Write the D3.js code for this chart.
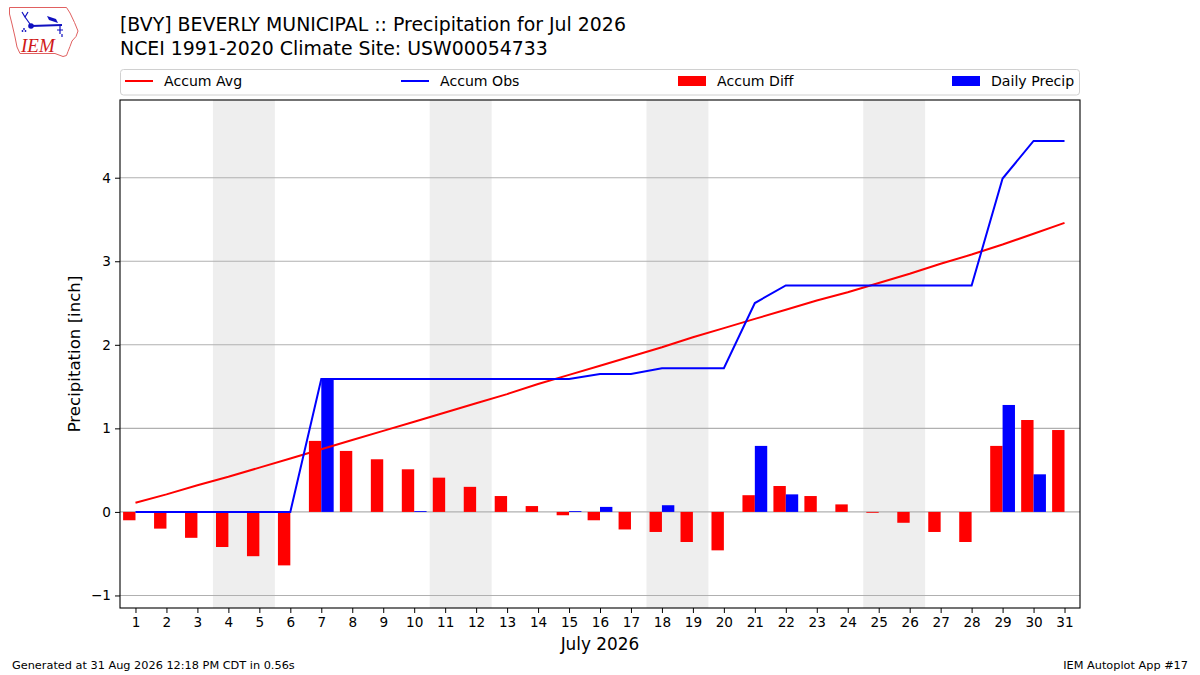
<!DOCTYPE html>
<html>
<head>
<meta charset="utf-8">
<script src="https://cdn.jsdelivr.net/npm/d3@7"></script>
<style>
	body { margin: 0; background: #fff; }
	svg { display: block; font-family: "DejaVu Sans", sans-serif; }
</style>
</head>
<body>
<div id="chart"></div>
<script>

// July 2026 days
var days = d3.range(1, 32)

var accumAvg = [0.11, 0.21, 0.32, 0.42, 0.53, 0.64, 0.75, 0.86, 0.97, 1.08,
	1.19, 1.30, 1.41, 1.53, 1.64, 1.75, 1.86, 1.97, 2.09, 2.20,
	2.31, 2.42, 2.53, 2.63, 2.74, 2.85, 2.97, 3.08, 3.20, 3.33, 3.46]

var accumObs = [0, 0, 0, 0, 0, 0, 1.59, 1.59, 1.59, 1.59,
	1.59, 1.59, 1.59, 1.59, 1.59, 1.65, 1.65, 1.72, 1.72, 1.72,
	2.50, 2.71, 2.71, 2.71, 2.71, 2.71, 2.71, 2.71, 3.99, 4.44, 4.44]

var accumDiff = [-0.10, -0.20, -0.31, -0.42, -0.53, -0.64, 0.85, 0.73, 0.63, 0.51,
	0.41, 0.30, 0.19, 0.07, -0.04, -0.10, -0.21, -0.24, -0.36, -0.46,
	0.20, 0.31, 0.19, 0.09, -0.01, -0.13, -0.24, -0.36, 0.79, 1.10, 0.98]

var dailyPrecip = [0, 0, 0, 0, 0, 0, 1.59, 0, 0, 0.01,
	0, 0, 0, 0, 0.01, 0.06, 0, 0.08, 0, 0,
	0.79, 0.21, 0, 0, 0, 0, 0, 0, 1.28, 0.45, 0]

// weekend spans (Sat-Sun)
var weekends = [[4, 5], [11, 12], [18, 19], [25, 26]]

var yTicks = [-1, 0, 1, 2, 3, 4]

var legendItems = [
	{ label: "Accum Avg", color: "red", type: "line", x: 125 },
	{ label: "Accum Obs", color: "blue", type: "line", x: 401 },
	{ label: "Accum Diff", color: "red", type: "patch", x: 678 },
	{ label: "Daily Precip", color: "blue", type: "patch", x: 952 }
]

var width = 1200
var height = 675
var margin = {top: 100, right: 120, bottom: 67, left: 120}

var svg = d3.select("#chart").append("svg")
	.attr("width", width)
	.attr("height", height)

var x = d3.scaleLinear().domain([0.5, 31.5]).range([margin.left, width - margin.right])
var y = d3.scaleLinear().domain([-1.15, 4.93]).range([height - margin.bottom, margin.top])

var plotW = width - margin.left - margin.right
var plotH = height - margin.top - margin.bottom

svg.append("rect").attr("width", width).attr("height", height).attr("fill", "#fff")

// weekend shading
svg.selectAll(".weekend")
	.data(weekends)
	.enter().append("rect")
	.attr("class", "weekend")
	.attr("x", function(d) { return x(d[0] - 0.5) })
	.attr("y", margin.top)
	.attr("width", function(d) { return x(d[1] + 0.5) - x(d[0] - 0.5) })
	.attr("height", plotH)
	.attr("fill", "#eeeeee")

// grid
svg.append("g")
	.selectAll("line")
	.data(yTicks)
	.enter().append("line")
	.attr("x1", margin.left).attr("x2", width - margin.right)
	.attr("y1", function(d) { return y(d) }).attr("y2", function(d) { return y(d) })
	.attr("stroke", "#b0b0b0")
	.attr("stroke-width", 1.1)

// bars
var barW = 0.4
svg.append("g").selectAll("rect")
	.data(days)
	.enter().append("rect")
	.attr("x", function(d) { return x(d - barW) })
	.attr("width", x(barW) - x(0))
	.attr("y", function(d, i) { return y(Math.max(accumDiff[i], 0)) })
	.attr("height", function(d, i) { return Math.abs(y(accumDiff[i]) - y(0)) })
	.attr("fill", "red")

svg.append("g").selectAll("rect")
	.data(days)
	.enter().append("rect")
	.attr("x", function(d) { return x(d) })
	.attr("width", x(barW) - x(0))
	.attr("y", function(d, i) { return y(Math.max(dailyPrecip[i], 0)) })
	.attr("height", function(d, i) { return Math.abs(y(dailyPrecip[i]) - y(0)) })
	.attr("fill", "blue")

// lines
var line = d3.line()
	.x(function(d) { return x(d[0]) })
	.y(function(d) { return y(d[1]) })

svg.append("path")
	.datum(days.map(function(d, i) { return [d, accumAvg[i]] }))
	.attr("d", line)
	.attr("fill", "none")
	.attr("stroke", "red")
	.attr("stroke-width", 2)

svg.append("path")
	.datum(days.map(function(d, i) { return [d, accumObs[i]] }))
	.attr("d", line)
	.attr("fill", "none")
	.attr("stroke", "blue")
	.attr("stroke-width", 2)

// axes
var xAxis = d3.axisBottom(x).tickValues(days).tickFormat(d3.format("d")).tickSizeOuter(0).tickSize(5).tickPadding(4)
var yAxis = d3.axisLeft(y).tickValues(yTicks).tickFormat(function(d) { return d < 0 ? "\u2212" + Math.abs(d) : d }).tickSizeOuter(0).tickSize(5).tickPadding(4)

svg.append("g")
	.attr("class", "x")
	.attr("transform", "translate(0," + (height - margin.bottom) + ")")
	.call(xAxis)

svg.append("g")
	.attr("class", "y")
	.attr("transform", "translate(" + margin.left + ",0)")
	.call(yAxis)

svg.selectAll(".x .domain, .y .domain").remove()
svg.selectAll(".x text, .y text")
	.attr("font-family", "DejaVu Sans")
	.attr("font-size", 13.6)
	.attr("fill", "#000")
svg.selectAll(".x line, .y line").attr("stroke", "#000").attr("stroke-width", 1)

// frame
svg.append("rect")
	.attr("x", margin.left).attr("y", margin.top)
	.attr("width", plotW).attr("height", plotH)
	.attr("fill", "none")
	.attr("stroke", "#000")
	.attr("stroke-width", 1.1)

// axis labels
svg.append("text")
	.attr("x", x(16)).attr("y", 650)
	.attr("text-anchor", "middle")
	.attr("font-size", 16.9)
	.text("July 2026")

svg.append("text")
	.attr("transform", "translate(80," + (margin.top + plotH / 2) + ") rotate(-90)")
	.attr("text-anchor", "middle")
	.attr("font-size", 16.6)
	.text("Precipitation [inch]")

// titles
svg.append("text").attr("x", 120).attr("y", 31).attr("font-size", 18.9)
	.text("[BVY] BEVERLY MUNICIPAL :: Precipitation for Jul 2026")
svg.append("text").attr("x", 120).attr("y", 55).attr("font-size", 18.9)
	.text("NCEI 1991-2020 Climate Site: USW00054733")

// legend
var legend = svg.append("g")
legend.append("rect")
	.attr("x", 120.5).attr("y", 69.5)
	.attr("width", 959).attr("height", 25.5)
	.attr("rx", 3)
	.attr("fill", "#fff")
	.attr("stroke", "#d0d0d0")

legendItems.forEach(function(d) {
	if (d.type == "line") {
		legend.append("line")
			.attr("x1", d.x).attr("x2", d.x + 28)
			.attr("y1", 81).attr("y2", 81)
			.attr("stroke", d.color).attr("stroke-width", 2)
	} else {
		legend.append("rect")
			.attr("x", d.x).attr("y", 76)
			.attr("width", 28).attr("height", 10)
			.attr("fill", d.color)
	}
	legend.append("text")
		.attr("x", d.x + 39).attr("y", 86)
		.attr("font-size", 14.1)
		.text(d.label)
})

// footer
svg.append("text").attr("x", 12).attr("y", 669).attr("font-size", 11.3)
	.text("Generated at 31 Aug 2026 12:18 PM CDT in 0.56s")
svg.append("text").attr("x", 1188).attr("y", 669).attr("font-size", 11.3)
	.attr("text-anchor", "end")
	.text("IEM Autoplot App #17")

// IEM logo
var logo = svg.append("g")
var iowa = [[9.5, 7.5], [66.5, 7.5], [70, 13], [74.5, 22.5], [78, 31], [76, 36.5], [72, 41],
	[70, 46.5], [68, 51.5], [66.5, 55.5], [63, 56.5], [55, 53.5], [20, 53.5], [17, 47],
	[15, 37], [12, 24], [9.5, 14]]
logo.append("path")
	.attr("d", d3.line()(iowa) + "Z")
	.attr("fill", "#fff")
	.attr("stroke", "#e06060")
	.attr("stroke-width", 1)
logo.append("line").attr("x1", 31).attr("y1", 26).attr("x2", 62).attr("y2", 25)
	.attr("stroke", "#1010c0").attr("stroke-width", 2)
logo.append("circle").attr("cx", 31).attr("cy", 26).attr("r", 2.8).attr("fill", "#1010c0")
logo.append("path").attr("d", "M22,12 L25,17 L28,12 M25,17 L30,24").attr("fill", "none").attr("stroke", "#1010c0").attr("stroke-width", 1.2)
logo.append("path").attr("d", "M47,16 L56,19 L58,23 L49,20 Z").attr("fill", "#1010c0")
logo.append("path").attr("d", "M60,25 L60,34 M57,30 L63,30 M62,34 L62,37").attr("fill", "none").attr("stroke", "#1010c0").attr("stroke-width", 1.2)
logo.append("circle").attr("cx", 24).attr("cy", 29).attr("r", 0.9).attr("fill", "#1010c0")
logo.append("circle").attr("cx", 22.5).attr("cy", 31).attr("r", 0.9).attr("fill", "#1010c0")
logo.append("circle").attr("cx", 25.5).attr("cy", 31).attr("r", 0.9).attr("fill", "#1010c0")
logo.append("text")
	.attr("x", 21).attr("y", 52)
	.attr("font-family", "Liberation Serif, DejaVu Serif, serif")
	.attr("font-style", "italic")
	.attr("font-size", 19)
	.attr("fill", "#d01818")
	.text("IEM")

</script>
</body>
</html>
